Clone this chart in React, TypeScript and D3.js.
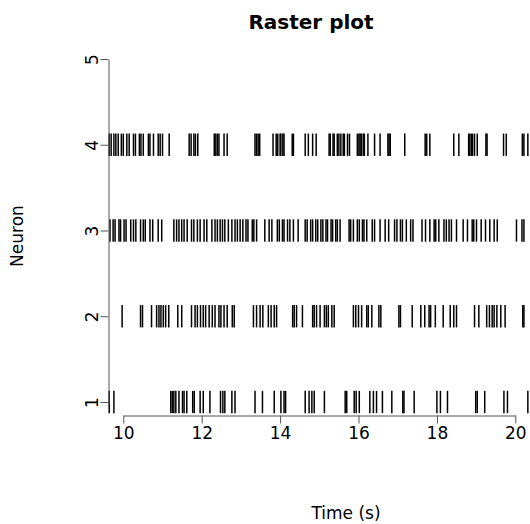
import React, { useEffect, useRef } from 'react';
import * as d3 from 'd3';

// spike times (s) per neuron
const neuron1 = [9.64, 9.76, 11.21, 11.25, 11.29, 11.34, 11.42, 11.51, 11.55, 11.62, 11.77, 11.81, 11.96, 12.04, 12.21, 12.48, 12.54, 12.59, 12.77, 12.85,
  13.36, 13.55, 13.85, 14.02, 14.10, 14.14, 14.64, 14.74, 14.81, 14.87, 15.13, 15.66, 15.70, 15.89, 15.94, 16.02, 16.29, 16.38, 16.46, 16.61,
  16.85, 17.13, 17.16, 17.42, 18.00, 18.09, 18.27, 18.99, 19.03, 19.22, 19.71, 19.80, 20.32];
const neuron2 = [9.97, 10.44, 10.49, 10.72, 10.85, 10.91, 10.96, 11.02, 11.08, 11.16, 11.39, 11.49, 11.74, 11.83, 11.89, 11.97, 12.04, 12.10, 12.19, 12.27,
  12.34, 12.44, 12.49, 12.57, 12.65, 12.78, 12.83, 13.32, 13.40, 13.49, 13.56, 13.70, 13.77, 13.85, 13.91, 14.32, 14.36, 14.42, 14.57, 14.83,
  14.87, 14.93, 15.02, 15.13, 15.18, 15.23, 15.32, 15.38, 15.87, 15.93, 16.00, 16.08, 16.21, 16.25, 16.34, 16.52, 16.57, 17.03, 17.07, 17.37,
  17.59, 17.69, 17.80, 17.84, 17.96, 18.16, 18.34, 18.43, 18.50, 18.96, 19.07, 19.27, 19.34, 19.41, 19.46, 19.53, 19.63, 19.74, 20.19, 20.22];
const neuron3 = [9.66, 9.74, 9.79, 9.89, 9.93, 10.02, 10.07, 10.19, 10.26, 10.32, 10.44, 10.51, 10.56, 10.68, 10.75, 10.89, 10.98, 11.29, 11.36, 11.42,
  11.49, 11.55, 11.63, 11.74, 11.80, 11.89, 11.96, 12.06, 12.13, 12.26, 12.34, 12.40, 12.47, 12.53, 12.59, 12.68, 12.77, 12.85, 12.91, 12.98,
  13.05, 13.13, 13.18, 13.29, 13.33, 13.40, 13.61, 13.72, 13.79, 13.93, 13.98, 14.06, 14.10, 14.19, 14.25, 14.34, 14.46, 14.64, 14.69, 14.78,
  14.83, 14.91, 14.96, 15.04, 15.09, 15.17, 15.21, 15.30, 15.34, 15.42, 15.46, 15.53, 15.76, 15.80, 15.87, 15.97, 16.02, 16.10, 16.14, 16.21,
  16.35, 16.41, 16.55, 16.68, 16.77, 16.92, 16.98, 17.07, 17.12, 17.22, 17.33, 17.39, 17.62, 17.71, 17.82, 17.93, 17.97, 18.05, 18.18, 18.24,
  18.31, 18.37, 18.50, 18.67, 18.78, 18.90, 18.94, 19.01, 19.13, 19.24, 19.35, 19.46, 19.54, 20.03, 20.17, 20.22];
const neuron4 = [9.64, 9.69, 9.76, 9.81, 9.87, 9.95, 10.00, 10.09, 10.15, 10.26, 10.31, 10.41, 10.45, 10.51, 10.64, 10.68, 10.77, 10.89, 10.94, 11.00,
  11.17, 11.68, 11.73, 11.80, 11.84, 11.90, 12.32, 12.36, 12.40, 12.44, 12.57, 12.65, 13.36, 13.40, 13.44, 13.48, 13.82, 13.90, 13.94, 14.00,
  14.02, 14.07, 14.10, 14.31, 14.34, 14.64, 14.72, 14.83, 14.92, 15.25, 15.28, 15.35, 15.38, 15.46, 15.50, 15.55, 15.61, 15.64, 15.72, 15.77,
  15.97, 16.01, 16.04, 16.07, 16.12, 16.15, 16.24, 16.41, 16.55, 16.75, 16.78, 16.81, 17.18, 17.70, 17.74, 17.82, 18.43, 18.56, 18.81, 18.84,
  18.88, 18.91, 18.96, 19.03, 19.25, 19.28, 19.70, 19.77, 20.18, 20.22, 20.32];

const trains = [neuron1, neuron2, neuron3, neuron4];
const neuronTicks = [1, 2, 3, 4, 5];
const timeTicks = [10, 12, 14, 16, 18, 20];

const W = 530;
const H = 524;
const FONT = '"DejaVu Sans", sans-serif';

export default function App() {
  const ref = useRef<SVGSVGElement>(null);

  const x = d3.scaleLinear().domain([10, 20]).range([123.3, 515.3]);
  const y = d3.scaleLinear().domain([1, 5]).range([402, 59]);
  const half = 0.13;

  useEffect(() => {
    const svg = d3.select(ref.current);
    svg.selectAll('*').remove();

    // spikes
    const g = svg.append('g').attr('class', 'spikes');
    trains.forEach((times, i) => {
      g.selectAll(null)
        .data(times)
        .enter()
        .append('line')
        .attr('x1', d => x(d))
        .attr('x2', d => x(d))
        .attr('y1', y(i + 1 - half))
        .attr('y2', y(i + 1 + half))
        .attr('stroke', '#000')
        .attr('stroke-width', 1.5);
    });

    // x axis
    svg.append('g')
      .attr('transform', 'translate(0,415.5)')
      .call(d3.axisBottom(x).tickValues(timeTicks).tickSize(8).tickSizeOuter(0).tickFormat(d3.format('d')))
      .call(a => a.attr('font-family', FONT).attr('font-size', 17))
      .call(a => a.selectAll('path,line').attr('stroke', '#555'))
      .call(a => a.selectAll('.tick text').attr('fill', '#000').attr('y', 11).attr('dy', '0.71em'));

    // y axis
    svg.append('g')
      .attr('transform', 'translate(108.5,0)')
      .call(d3.axisLeft(y).tickValues(neuronTicks).tickSize(8).tickSizeOuter(0).tickFormat(d3.format('d')))
      .call(a => a.attr('font-family', FONT).attr('font-size', 17))
      .call(a => a.selectAll('path,line').attr('stroke', '#555'))
      .call(a => a.selectAll('.tick text')
        .attr('fill', '#000')
        .attr('x', 0).attr('dy', 0)
        .attr('text-anchor', 'middle')
        .attr('transform', 'translate(-11,0) rotate(-90)'));

    // titles
    svg.append('text')
      .attr('x', 311).attr('y', 29)
      .attr('text-anchor', 'middle')
      .attr('font-family', FONT).attr('font-size', 20).attr('font-weight', 'bold')
      .text('Raster plot');

    svg.append('text')
      .attr('x', 346).attr('y', 519)
      .attr('text-anchor', 'middle')
      .attr('font-family', FONT).attr('font-size', 17)
      .text('Time (s)');

    svg.append('text')
      .attr('transform', 'translate(23,236) rotate(-90)')
      .attr('text-anchor', 'middle')
      .attr('font-family', FONT).attr('font-size', 17)
      .text('Neuron');
  }, []);

  return (
    <svg ref={ref} width={W} height={H}
      style={{ position: 'absolute', left: 0, top: 0, background: '#fff' }} />
  );
}
